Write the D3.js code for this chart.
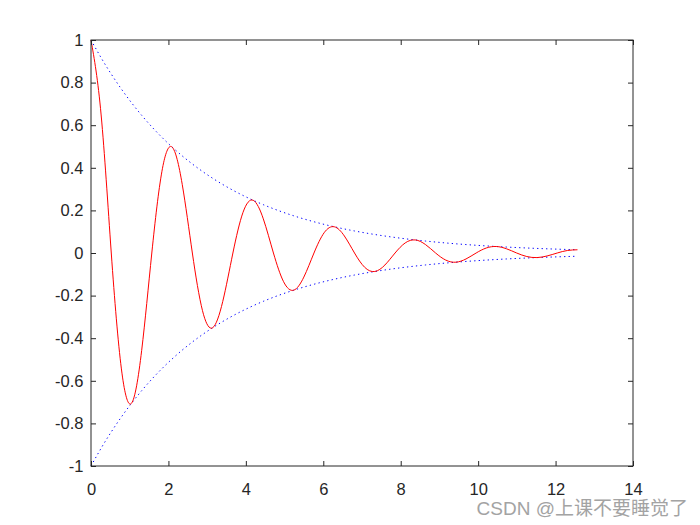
<!DOCTYPE html>
<html><head><meta charset="utf-8">
<script src="https://cdn.jsdelivr.net/npm/d3@7"></script>
<style>html,body{margin:0;padding:0;background:#fff;}svg{display:block;}</style>
</head><body>
<script>
const tValues = [0, 0.2618, 0.5236, 0.7854, 1.0472, 1.3090, 1.5708, 1.8326, 2.0944, 2.3562, 2.6180, 2.8798, 3.1416, 3.4034, 3.6652, 3.9270, 4.1888, 4.4506, 4.7124, 4.9742, 5.2360, 5.4978, 5.7596, 6.0214, 6.2832, 6.5450, 6.8068, 7.0686, 7.3304, 7.5922, 7.8540, 8.1158, 8.3776, 8.6394, 8.9012, 9.1630, 9.4248, 9.6866, 9.9484, 10.2102, 10.4720, 10.7338, 10.9956, 11.2574, 11.5192, 11.7810, 12.0428, 12.3046, 12.5664];
const envelopeValues = [1, 0.91643, 0.83985, 0.76966, 0.70534, 0.64640, 0.59238, 0.54288, 0.49751, 0.45593, 0.41783, 0.38291, 0.35091, 0.32159, 0.29472, 0.27009, 0.24752, 0.22684, 0.20788, 0.19051, 0.17459, 0.16000, 0.14663, 0.13438, 0.12315, 0.11286, 0.10343, 0.09479, 0.08687, 0.07961, 0.07296, 0.06686, 0.06127, 0.05616, 0.05146, 0.04716, 0.04322, 0.03960, 0.03629, 0.03326, 0.03048, 0.02793, 0.02560, 0.02346, 0.02150, 0.01970, 0.01806, 0.01655, 0.01516];
const signalValues = [1, 0.6480, 0, -0.5442, -0.70534, -0.4571, 0, 0.3839, 0.49751, 0.3224, 0, -0.2708, -0.35091, -0.2274, 0, 0.1910, 0.24752, 0.1604, 0, -0.1347, -0.17459, -0.1131, 0, 0.0950, 0.12315, 0.0798, 0, -0.0670, -0.08687, -0.0563, 0, 0.0473, 0.06127, 0.0397, 0, -0.0333, -0.04322, -0.0280, 0, 0.0235, 0.03048, 0.0197, 0, -0.0166, -0.02150, -0.0139, 0, 0.0117, 0.01516];
const xTicks = [0, 2, 4, 6, 8, 10, 12, 14];
const xTickLabels = ["0", "2", "4", "6", "8", "10", "12", "14"];
const yTicks = [-1, -0.8, -0.6, -0.4, -0.2, 0, 0.2, 0.4, 0.6, 0.8, 1];
const yTickLabels = ["-1", "-0.8", "-0.6", "-0.4", "-0.2", "0", "0.2", "0.4", "0.6", "0.8", "1"];

const W = 700, H = 525;
const L = 91, R = 633, T = 40, B = 466;
const svg = d3.select("body").append("svg").attr("width", W).attr("height", H);
const x = d3.scaleLinear().domain([0, 14]).range([L, R]);
const y = d3.scaleLinear().domain([-1, 1]).range([B, T]);
const axisColor = "#262626";
const font = "'Liberation Sans', Arial, Helvetica, sans-serif";
const tickLen = 5;

const pts = tValues.map((t, i) => ({t, s: signalValues[i], e: envelopeValues[i]}));

const lineSig = d3.line().x(d => x(d.t)).y(d => y(d.s)).curve(d3.curveNatural);
const lineUp = d3.line().x(d => x(d.t)).y(d => y(d.e)).curve(d3.curveNatural);
const lineDn = d3.line().x(d => x(d.t)).y(d => y(-d.e)).curve(d3.curveNatural);

const plot = svg.append("g");
plot.append("path").attr("d", lineUp(pts)).attr("fill", "none").attr("stroke", "#0000ff")
  .attr("stroke-width", 1).attr("stroke-dasharray", "1.3,3.2");
plot.append("path").attr("d", lineDn(pts)).attr("fill", "none").attr("stroke", "#0000ff")
  .attr("stroke-width", 1).attr("stroke-dasharray", "1.3,3.2");
plot.append("path").attr("d", lineSig(pts)).attr("fill", "none").attr("stroke", "#ff0000")
  .attr("stroke-width", 1);

// axes
const axB = svg.append("g").attr("transform", `translate(0,${B})`)
  .call(d3.axisBottom(x).tickValues(xTicks).tickFormat((d, i) => xTickLabels[i]).tickSizeInner(-tickLen).tickSizeOuter(0).tickPadding(17));
const axT = svg.append("g").attr("transform", `translate(0,${T})`)
  .call(d3.axisTop(x).tickValues(xTicks).tickFormat("").tickSizeInner(-tickLen).tickSizeOuter(0));
const axL = svg.append("g").attr("transform", `translate(${L},0)`)
  .call(d3.axisLeft(y).tickValues(yTicks).tickFormat((d, i) => yTickLabels[i]).tickSizeInner(-tickLen).tickSizeOuter(0).tickPadding(7.5));
const axR = svg.append("g").attr("transform", `translate(${R},0)`)
  .call(d3.axisRight(y).tickValues(yTicks).tickFormat("").tickSizeInner(-tickLen).tickSizeOuter(0));
[axB, axT, axL, axR].forEach(g => {
  g.select(".domain").remove();
  g.selectAll("line").attr("stroke", axisColor).attr("stroke-width", 1);
  g.selectAll("text").attr("fill", axisColor).style("font-family", font).style("font-size", "16.5px");
});
svg.append("rect").attr("x", L).attr("y", T).attr("width", R - L).attr("height", B - T)
  .attr("fill", "none").attr("stroke", axisColor).attr("stroke-width", 1);

// watermark
svg.append("text").attr("x", 688).attr("y", 515).attr("text-anchor", "end")
  .style("font-family", "'Liberation Sans', 'Noto Sans CJK SC', sans-serif").style("font-size", "19px")
  .attr("fill", "#a3a3a3").text("CSDN @上课不要睡觉了");
</script>
</body></html>
